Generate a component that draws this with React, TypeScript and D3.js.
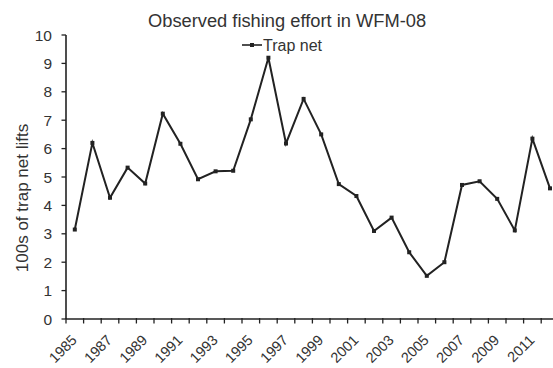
import React from "react";
import * as d3 from "d3";

const years: number[] = [1985,1986,1987,1988,1989,1990,1991,1992,1993,1994,1995,1996,1997,1998,1999,2000,2001,2002,2003,2004,2005,2006,2007,2008,2009,2010,2011,2012];
const trapNet: number[] = [3.15,6.2,4.27,5.33,4.77,7.23,6.17,4.92,5.2,5.22,7.03,9.2,6.18,7.75,6.5,4.75,4.33,3.1,3.57,2.35,1.52,2.0,4.72,4.85,4.23,3.12,6.35,4.6];
const yTicks: number[] = [0,1,2,3,4,5,6,7,8,9,10];
const xLabelYears: number[] = [1985,1987,1989,1991,1993,1995,1997,1999,2001,2003,2005,2007,2009,2011];
const title = "Observed fishing effort in WFM-08";
const seriesName = "Trap net";
const yTitle = "100s of trap net lifts";

export default function App() {
  const W = 553, H = 368;
  const left = 66, top = 35, bottom = 319;
  const bandW = 17.6;
  const x = d3.scaleBand<number>().domain(years).range([left, left + bandW * years.length]).padding(0);
  const y = d3.scaleLinear().domain([0, 10]).range([bottom, top]);
  const cx = (yr: number) => (x(yr) as number) + x.bandwidth() / 2;
  const line = d3.line<number>().x((_, i) => cx(years[i])).y((d) => y(d));
  const font = "'Liberation Sans', Arial, sans-serif";
  const col = "#222";
  const txt = "#333";
  const boundaries = d3.range(years.length + 1).map((i) => left + i * x.bandwidth());

  return (
    <svg width={W} height={H} style={{ position: "absolute", left: 0, top: 0, background: "#fff" }} fontFamily={font}>
      <rect x={0} y={0} width={W} height={H} fill="#fff" />
      <text x={148} y={27} textAnchor="start" fontSize={18.3} fill={txt}>{title}</text>
      {/* legend */}
      <line x1={242} x2={262} y1={45} y2={45} stroke={col} strokeWidth={1.6} />
      <rect x={250} y={43} width={4} height={4} fill={col} />
      <text x={263} y={51} fontSize={16} fill={txt}>{seriesName}</text>
      {/* y axis */}
      <line x1={left} x2={left} y1={top} y2={bottom} stroke={col} strokeWidth={1.6} />
      {yTicks.map((t) => (
        <g key={t}>
          <line x1={left - 4.5} x2={left} y1={y(t)} y2={y(t)} stroke={col} strokeWidth={1.3} />
          <text x={52} y={y(t)} dy="0.36em" textAnchor="end" fontSize={15.5} fill={txt}>{t}</text>
        </g>
      ))}
      <text transform={`translate(22,198) rotate(-90)`} textAnchor="middle" dy="0.35em" fontSize={17} fill={txt}>{yTitle}</text>
      {/* x axis */}
      <line x1={left} x2={W + 10} y1={bottom} y2={bottom} stroke={col} strokeWidth={1.6} />
      {boundaries.map((b, i) => (
        <line key={i} x1={b} x2={b} y1={bottom - 1} y2={bottom + 4.5} stroke={col} strokeWidth={1.3} />
      ))}
      {xLabelYears.map((yr) => (
        <text key={yr} transform={`translate(${cx(yr) + 3},${bottom + 22}) rotate(-45)`} textAnchor="end" fontSize={14.5} fill={txt}>{yr}</text>
      ))}
      {/* series */}
      <path d={line(trapNet) || ""} fill="none" stroke={col} strokeWidth={2} strokeLinejoin="miter" />
      {trapNet.map((v, i) => (
        <rect key={i} x={cx(years[i]) - 2} y={y(v) - 2} width={4} height={4} fill={col} />
      ))}
    </svg>
  );
}
